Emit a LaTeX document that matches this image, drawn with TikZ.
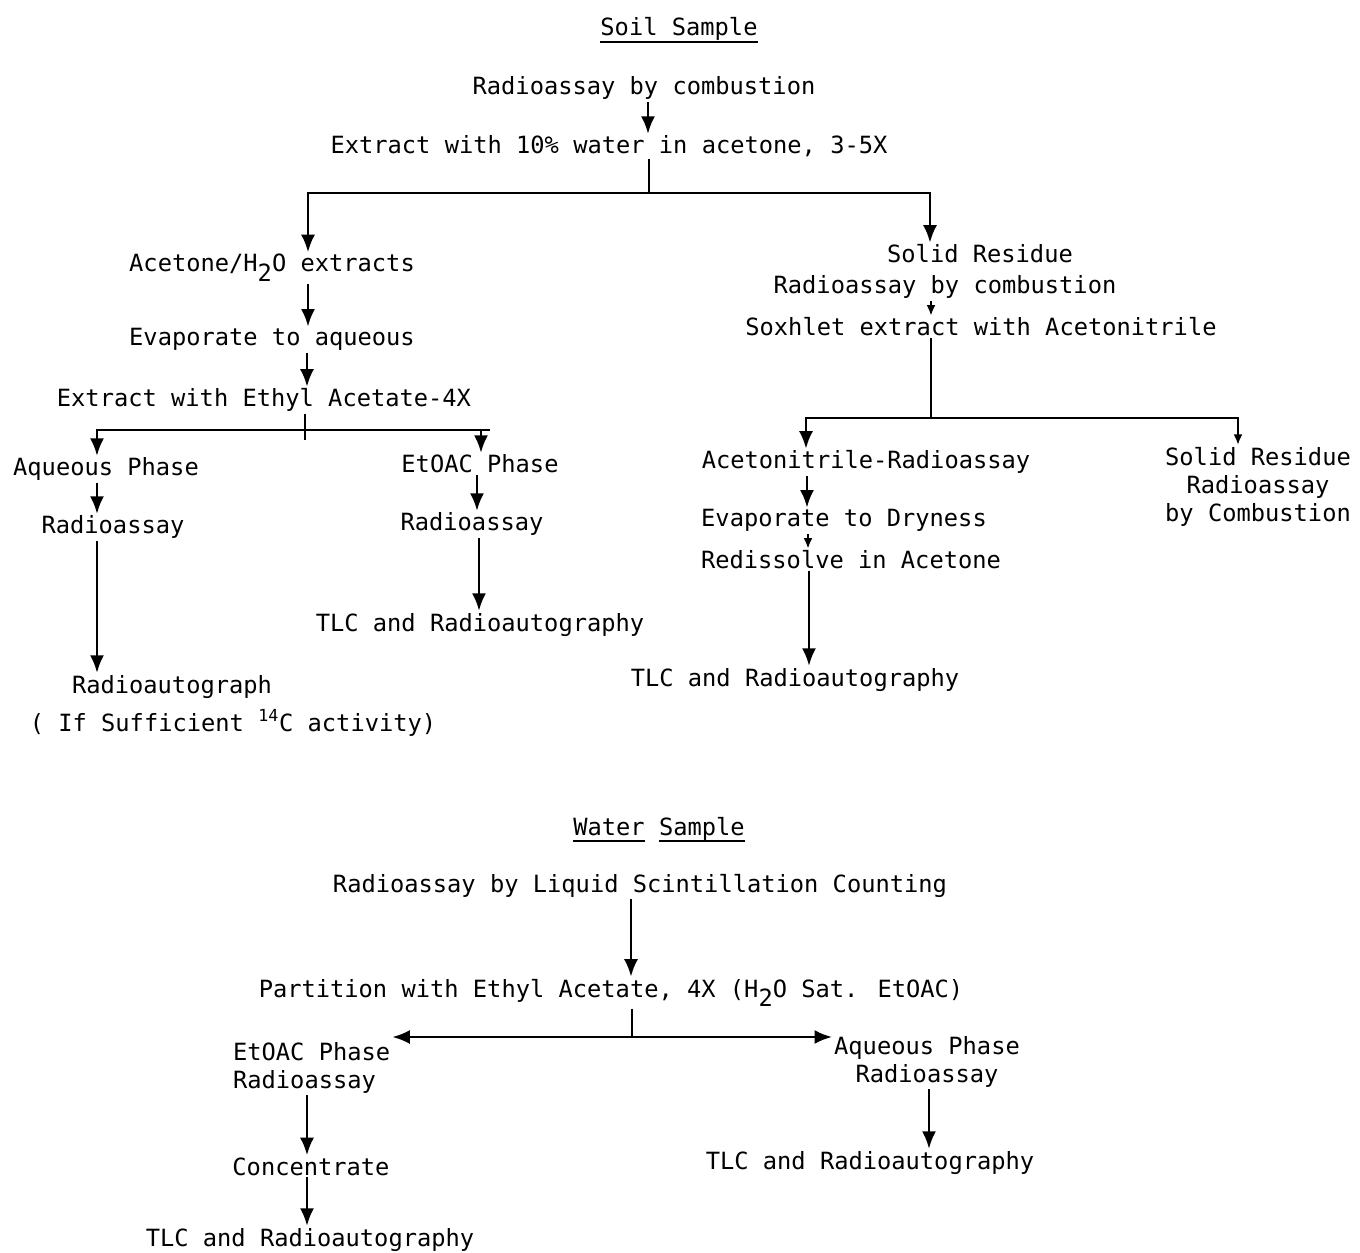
\documentclass[tikz,border=0pt]{standalone}
\usepackage{fontspec}
\setmainfont{DejaVu Sans Mono}
\usetikzlibrary{arrows.meta}
\tikzset{>={Latex[length=10pt,width=8pt]}, font=\fontsize{13.5}{16}\selectfont}
\tikzstyle{stage} = [inner sep=1pt, anchor=base]
\tikzstyle{stack} = [inner sep=1pt, anchor=north, align=center]
\tikzstyle{flow} = [line width=1.5pt]
\tikzstyle{smallhead} = [-{Latex[length=6pt,width=5pt]}]
\newcommand{\uword}[1]{\setbox0\hbox{#1}\rlap{\rule[-4pt]{\wd0}{1.3pt}}\box0\relax}
\newcommand{\dn}[1]{\raisebox{-0.4em}{#1}}

\begin{document}
\begin{tikzpicture}[x=0.02cm, y=-0.02cm]
	\useasboundingbox (0,0) rectangle (1360,1253);

	% soil sample
	\node [stage] (soil) at (679,36) {\uword{Soil Sample}};
	\node [stage] (rc1) at (644,95) {Radioassay by combustion};
	\node [stage] (ext1) at (609,154) {Extract with 10\% water in acetone, 3-5X};

	\node [stage] (acet) at (272,272) {Acetone/H\dn{2}O extracts};
	\node [stage] (evap) at (272,346) {Evaporate to aqueous};
	\node [stage] (ext2) at (264,407) {Extract with Ethyl Acetate-4X};
	\node [stage] (aq) at (106,476) {Aqueous Phase};
	\node [stage] (ra1) at (113,534) {Radioassay};
	\node [stage] (rag) at (172,693) {Radioautograph};
	\node [stage] (suff) at (233,731) {( If Sufficient \textsuperscript{14}C activity)};
	\node [stage] (et) at (480,473) {EtOAC Phase};
	\node [stage] (ra2) at (472,531) {Radioassay};
	\node [stage] (tlc1) at (480,631) {TLC and Radioautography};

	\node [stage] (sres) at (980,263) {Solid Residue};
	\node [stage] (rc2) at (945,294) {Radioassay by combustion};
	\node [stage] (sox) at (981,336) {Soxhlet extract with Acetonitrile};
	\node [stage] (acn) at (866,469) {Acetonitrile-Radioassay};
	\node [stage] (evd) at (844,527) {Evaporate to Dryness};
	\node [stage] (red) at (851,569) {Redissolve in Acetone};
	\node [stage] (tlc2) at (795,686) {TLC and Radioautography};
	\node [stack] (sr2) at (1258,445) {Solid Residue\\Radioassay\\by Combustion};

	% water sample
	\node [stage] (water) at (659,835) {\uword{Water} \uword{Sample}};
	\node [stage] (lsc) at (640,892) {Radioassay by Liquid Scintillation Counting};
	\node [stage] (part) at (611,997) {Partition with Ethyl Acetate, 4X (H\dn{2}O Sat. EtOAC)};
	\node [stack, anchor=north west, align=left] (etw) at (231,1040) {EtOAC Phase\\Radioassay};
	\node [stage] (conc) at (311,1175) {Concentrate};
	\node [stage] (tlc3) at (310,1246) {TLC and Radioautography};
	\node [stack] (aqw) at (927,1034) {Aqueous Phase\\Radioassay};
	\node [stage] (tlc4) at (870,1169) {TLC and Radioautography};

	\coordinate (j1) at (649,193);
	\coordinate (j2) at (305,430);
	\coordinate (j3) at (931,418);
	\coordinate (j5) at (632,1037);

	\draw [flow,->] (rc1.south -| 648,0) -- (ext1.north -| 648,0);
	\draw [flow] (ext1.south -| j1) -- (j1);
	\draw [flow,->] (j1) -| (acet.north -| 308,0);
	\draw [flow,->] (j1) -| (sres.north -| 930,0);
	\draw [flow,->] (acet.south -| 308,0) -- (evap.north -| 308,0);
	\draw [flow,->] (evap.south -| 307,0) -- (ext2.north -| 307,0);
	\draw [flow] (ext2.south -| j2) -- ([yshift=-0.2cm]j2);
	\draw [flow,->] (j2) -| (aq.north -| 97,0);
	\draw [flow,->] (j2) -| (et.north -| 481,0);
	\draw [flow] (j2) -- ++(185,0);
	\draw [flow,->] (aq.south -| 97,0) -- (ra1.north -| 97,0);
	\draw [flow,->] (ra1.south -| 97,0) -- (rag.north -| 97,0);
	\draw [flow,->] (et.south -| 477,0) -- (ra2.north -| 477,0);
	\draw [flow,->] (ra2.south -| 479,0) -- (tlc1.north -| 479,0);

	\draw [flow,smallhead] (rc2.south -| 931,0) -- (sox.north -| 931,0);
	\draw [flow] (sox.south -| j3) -- (j3);
	\draw [flow,->] (j3) -| (acn.north -| 806,0);
	\draw [flow,smallhead] (j3) -| (sr2.north -| 1238,0);
	\draw [flow,->] (acn.south -| 807,0) -- (evd.north -| 807,0);
	\draw [flow,smallhead] (evd.south -| 808,0) -- (red.north -| 808,0);
	\draw [flow,->] (red.south -| 809,0) -- (tlc2.north -| 809,0);

	\draw [flow,->] (lsc.south -| 631,0) -- (part.north -| 631,0);
	\draw [flow] (part.south -| j5) -- (j5);
	\draw [flow,<->] (etw.east |- j5) -- (aqw.west |- j5);
	\draw [flow,->] (etw.south -| 307,0) -- (conc.north -| 307,0);
	\draw [flow,->] (conc.south -| 307,0) -- (tlc3.north -| 307,0);
	\draw [flow,->] (aqw.south -| 929,0) -- (tlc4.north -| 929,0);
\end{tikzpicture}
\end{document}
